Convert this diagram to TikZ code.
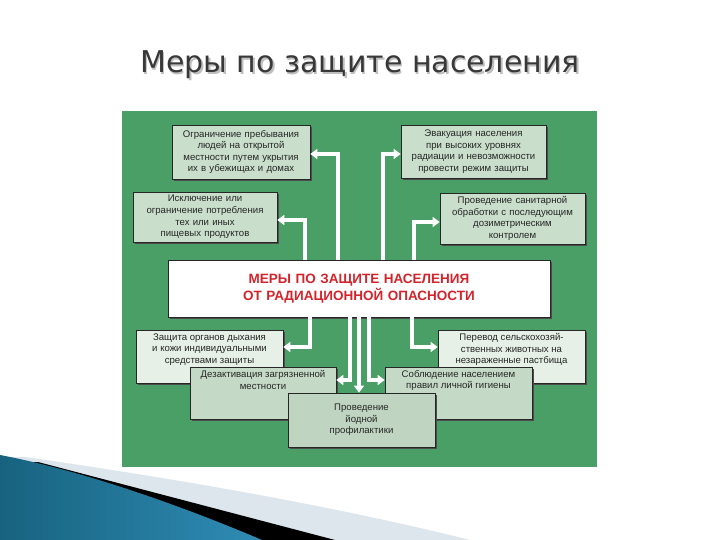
\documentclass[tikz,border=0pt]{standalone}
\usepackage{fontspec}
\setmainfont{Liberation Sans}
\newfontfamily\titlefont{DejaVu Sans}
\usetikzlibrary{arrows.meta,shadows}
\definecolor{panel}{HTML}{4A9F66}
\definecolor{boxA}{HTML}{C9DECB}
\definecolor{boxL}{HTML}{E6F0E6}
\definecolor{boxM}{HTML}{C5DAC6}
\definecolor{boxD}{HTML}{C0D5C1}
\definecolor{redtxt}{HTML}{D3242B}
\definecolor{titlegray}{HTML}{383838}
\definecolor{lightband}{HTML}{DCE6EC}
\definecolor{blueA}{HTML}{17637F}
\definecolor{blueB}{HTML}{55B4DB}
\definecolor{blueC}{HTML}{2F8CB5}
\begin{document}
\begin{tikzpicture}[x=1pt,y=-1pt,
  box/.style={draw=black!85, line width=0.7pt, inner sep=0pt, align=center,
    text=black!85, font=\fontsize{9.6}{11.6}\selectfont,
    general shadow={fill=black!70, shadow xshift=1.6pt, shadow yshift=-1.6pt}},
  boxtext/.style={inner sep=0pt, align=center, text=black!85,
    font=\fontsize{9.6}{11.6}\selectfont},
  flow/.style={draw=white, line width=3.2pt, -{Triangle[length=7pt,width=10pt]}}]
\useasboundingbox (0,0) rectangle (720,540);
\fill[white] (0,0) rectangle (720,540);

% title
\node[anchor=base, font=\titlefont\fontsize{30}{36}\selectfont, text=black!25] (titleshadow) at (361.5,74.5) {Меры по защите населения};
\node[anchor=base, font=\titlefont\fontsize{30}{36}\selectfont, text=titlegray] (title) at (360,73) {Меры по защите населения};

% green panel
\fill[panel] (122,111) rectangle (597,467);

% bottom-left decoration
\fill[lightband] (25,457) .. controls (200,482) and (350,510) .. (470,540) -- (0,540) -- (0,457) -- cycle;
\fill[black] (38,462) -- (335,540) -- (0,540) -- (0,462) -- cycle;
\shade[left color=blueA, middle color=blueB, right color=blueC]
  (0,455) .. controls (80,470) and (180,505) .. (262,540) -- (0,540) -- cycle;

% central box
\node[box, fill=white, minimum width=382pt, minimum height=57pt, text width=376pt,
  font=\bfseries\fontsize{13.5}{17}\selectfont, text=redtxt] (c) at (359,288.5)
  {МЕРЫ ПО ЗАЩИТЕ НАСЕЛЕНИЯ\\ОТ РАДИАЦИОННОЙ ОПАСНОСТИ};

% upper boxes
\node[box, fill=boxA, minimum width=138pt, minimum height=54pt, text width=134pt] (b1) at (241,152)
  {Ограничение пребывания\\людей на открытой\\местности путем укрытия\\их в убежищах и домах};
\node[box, fill=boxA, minimum width=144pt, minimum height=50pt, text width=140pt] (b2) at (205,217)
  {Исключение или\\ограничение потребления\\тех или иных\\пищевых продуктов};
\node[box, fill=boxA, minimum width=145pt, minimum height=53pt, text width=141pt] (b3) at (473.5,151.5)
  {Эвакуация населения\\при высоких уровнях\\радиации и невозможности\\провести режим защиты};
\node[box, fill=boxA, minimum width=145pt, minimum height=51pt, text width=141pt] (b4) at (512.5,218.5)
  {Проведение санитарной\\обработки с последующим\\дозиметрическим\\контролем};

% lower boxes
\node[box, fill=boxL, minimum width=147pt, minimum height=53pt] (b5) at (209.5,356.5) {};
\node[boxtext, anchor=north] (t5) at ([yshift=-3.5pt]b5.north) {Защита органов дыхания\\и кожи индивидуальными\\средствами защиты};
\node[box, fill=boxM, minimum width=146pt, minimum height=52pt] (b6) at (263,393) {};
\node[boxtext, anchor=north] (t6) at ([yshift=-3.5pt]b6.north) {Дезактивация загрязненной\\местности};
\node[box, fill=boxL, minimum width=147pt, minimum height=53pt] (b8) at (511.5,356.5) {};
\node[boxtext, anchor=north] (t8) at ([yshift=-3.5pt]b8.north) {Перевод сельскохозяй-\\ственных животных на\\незараженные пастбища};
\node[box, fill=boxM, minimum width=147pt, minimum height=52pt] (b9) at (458.5,393) {};
\node[boxtext, anchor=north] (t9) at ([yshift=-3.5pt]b9.north) {Соблюдение населением\\правил личной гигиены};
\node[box, fill=boxD, minimum width=147pt, minimum height=54pt, text width=143pt] (b7) at (361.5,420)
  {Проведение\\йодной\\профилактики};

% connectors
\draw[flow] ([xshift=-54pt]c.north) |- ([yshift=-3pt]b2.east);
\draw[flow] ([xshift=-21pt]c.north) |- ([yshift=-2pt]b1.east);
\draw[flow] ([xshift=24pt]c.north) |- ([yshift=-2.5pt]b3.west);
\draw[flow] ([xshift=55pt]c.north) |- ([yshift=-3.5pt]b4.west);
\draw[flow] ([xshift=-49pt]c.south) |- ([yshift=9.5pt]b5.east);
\draw[flow] ([xshift=-9pt]c.south) |- ([yshift=13pt]b6.east);
\draw[flow] (c.south) -- (c.south |- b7.north);
\draw[flow] ([xshift=10pt]c.south) |- ([yshift=13pt]b9.west);
\draw[flow] ([xshift=53pt]c.south) |- ([yshift=9.5pt]b8.west);
\end{tikzpicture}
\end{document}
